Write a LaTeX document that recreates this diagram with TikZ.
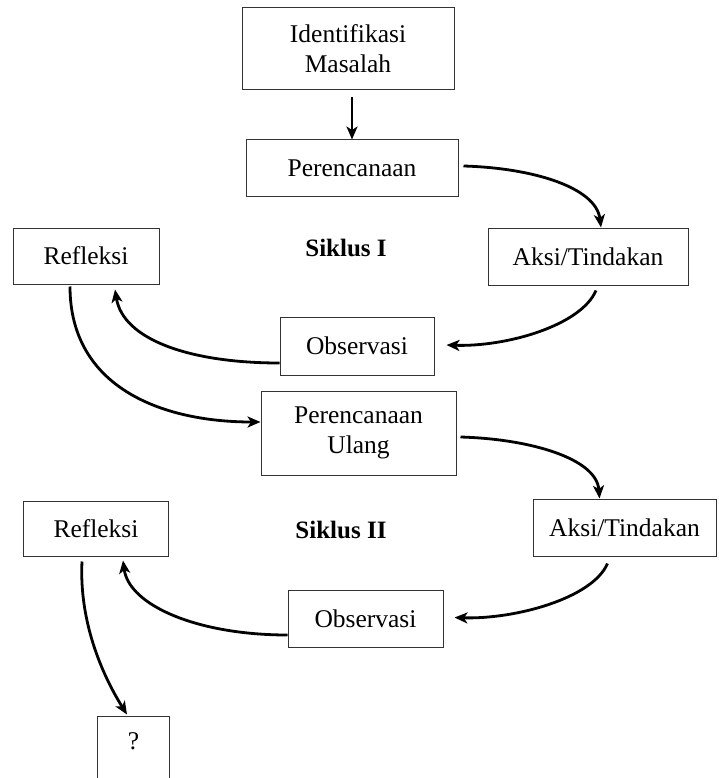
\documentclass[tikz,border=0pt]{standalone}
\usepackage{fontspec}
\setmainfont{Liberation Serif}
\usetikzlibrary{arrows.meta,calc}
\tikzset{
  box/.style={draw=black!80, line width=1pt, inner sep=0pt, align=center,
    font=\fontsize{25.5}{30}\selectfont},
  boxline/.style={draw=black!80, line width=1pt},
  lbl/.style={font=\fontsize{25}{30}\selectfont\bfseries, inner sep=0pt},
  arr/.style={line width=2.8pt, -{Stealth[length=13pt,width=11pt,inset=3.5pt]}},
}
\begin{document}
\begin{tikzpicture}[x=1pt,y=-1pt]
\useasboundingbox (0,0) rectangle (718,778);
\clip (0,0) rectangle (718,778);
% boxes
\node[box, minimum width=212pt, minimum height=82pt] (I) at (348,49) {Identifikasi\\Masalah};
\node[box, minimum width=212pt, minimum height=56pt] (P) at (352,168) {Perencanaan};
\node[box, minimum width=200pt, minimum height=57pt] (A1) at (588,256.5) {Aksi/Tindakan};
\node[box, minimum width=146pt, minimum height=56pt] (R1) at (86,256) {Refleksi};
\node[lbl] (S1) at (346,248) {Siklus I};
\node[box, minimum width=154pt, minimum height=58pt] (O1) at (357,346) {Observasi};
\node[box, minimum width=195pt, minimum height=84pt] (PU) at (358.5,433) {Perencanaan\\Ulang};
\node[box, minimum width=183pt, minimum height=57pt] (A2) at (624.5,527.5) {Aksi/Tindakan};
\node[box, minimum width=145pt, minimum height=55pt] (R2) at (96,528.5) {Refleksi};
\node[lbl] (S2) at (341,530) {Siklus II};
\node[box, minimum width=155pt, minimum height=57pt] (O2) at (365.5,618.5) {Observasi};
\node[box, draw=none, minimum width=71pt, minimum height=48pt] (Q) at (133.5,741) {?};
\draw[boxline] ([yshift=-70pt]Q.north west) -- (Q.north west) -- (Q.north east) -- ([yshift=-70pt]Q.north east);
% connectors
\draw[arr] ($(P.north |- I.south)+(0,7)$) -- (P.north);
\draw[arr] ($(P.east)+(5,-2)$) .. controls +(70,2) and +(-5,-40) .. ($(A1.north)+(13,0)$);
\draw[arr] ($(A1.south)+(8,5)$) .. controls +(-15,35) and +(60,2) .. ($(O1.east)+(12,-1)$);
\draw[arr] ($(O1.west)+(0,17)$) .. controls +(-90,0) and +(8,50) .. ($(R1.south)+(29,5)$);
\draw[arr] ($(R1.south)+(-16,2)$) .. controls +(0,100) and +(-100,0) .. ($(PU.west)+(0,-11)$);
\draw[arr] ($(PU.east)+(4,4)$) .. controls +(70,2) and +(-3,-40) .. ($(A2.north)+(-25,0)$);
\draw[arr] ($(A2.south)+(-17,7)$) .. controls +(-15,35) and +(60,2) .. ($(O2.east)+(11,-1)$);
\draw[arr] ($(O2.west)+(0,16.5)$) .. controls +(-90,0) and +(6,45) .. ($(R2.south)+(27,4)$);
\draw[arr] ($(R2.south)+(-14,5)$) .. controls +(-3,60) and +(-25,-40) .. ($(Q.north)+(-6.5,-2)$);
\end{tikzpicture}
\end{document}
